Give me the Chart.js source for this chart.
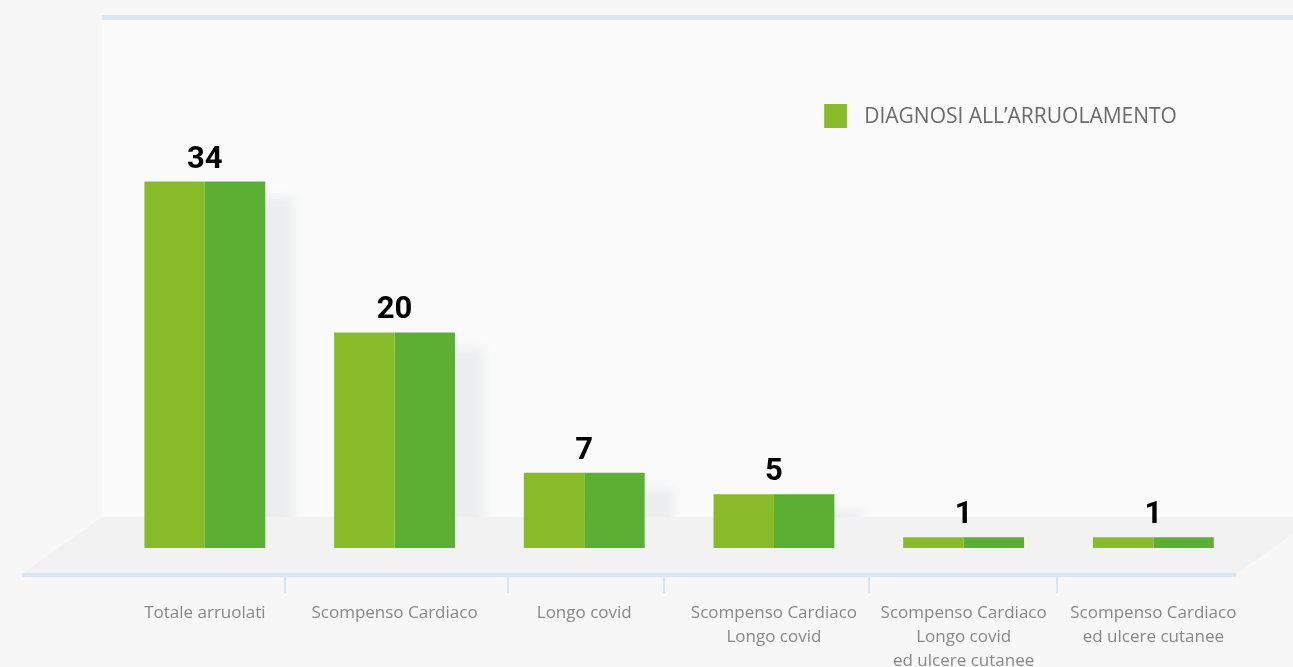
<!DOCTYPE html>
<html>
<head>
<meta charset="utf-8">
<script src="https://cdn.jsdelivr.net/npm/chart.js@4.4.1/dist/chart.umd.min.js"></script>
<style>
  html, body { margin: 0; padding: 0; background: #f7f7f7; }
  #wrap { width: 1293px; height: 667px; position: relative; }
</style>
</head>
<body>
<div id="wrap"><canvas id="c"></canvas></div>
<script>
// categories (multi-line labels as arrays)
var categories = [
  "Totale arruolati",
  "Scompenso Cardiaco",
  "Longo covid",
  ["Scompenso Cardiaco", "Longo covid"],
  ["Scompenso Cardiaco", "Longo covid", "ed ulcere cutanee"],
  ["Scompenso Cardiaco", "ed ulcere cutanee"]
];
var seriesName = "DIAGNOSI ALL\u2019ARRUOLAMENTO";
var values = [34, 20, 7, 5, 1, 1];
// separator ticks on the axis line, in category units
var separators = [0.42, 1.6, 2.42, 3.5, 4.49];

var LIGHT = "#87bb27", DARK = "#5bb033";
var WALL = "#fafafa", FLOOR = "#f2f2f2", AXIS_BLUE = "#d8e5f2";

// ── background: wall, floor, axis line, separators, bar shadows ──────────────
var scenePlugin = {
  id: "scene",
  beforeDraw: function (chart) {
    var ctx = chart.ctx, a = chart.chartArea, W = chart.width;
    var floorTop = a.bottom - 31, floorBot = a.bottom + 26;
    var wallLeft = a.left - 8;
    ctx.save();
    // back wall
    ctx.fillStyle = WALL;
    ctx.fillRect(wallLeft, 17, W - wallLeft, floorTop - 17);
    ctx.fillStyle = "#dbe6f3";
    ctx.fillRect(wallLeft, 15, W - wallLeft, 5);
    // floor
    var slope = (floorBot - floorTop) / 80;
    var rightBot = a.right - 12;
    ctx.fillStyle = FLOOR;
    ctx.beginPath();
    ctx.moveTo(wallLeft, floorTop);
    ctx.lineTo(W, floorTop);
    ctx.lineTo(W, floorBot - (W - rightBot) * slope);
    ctx.lineTo(rightBot, floorBot);
    ctx.lineTo(wallLeft - 80, floorBot);
    ctx.closePath();
    ctx.fill();
    // axis line
    ctx.fillStyle = AXIS_BLUE;
    ctx.fillRect(wallLeft - 80, floorBot - 1, rightBot - (wallLeft - 80), 4);
    // separators
    var xs = chart.scales.x;
    separators.forEach(function (v) {
      var x = Math.round(xs.getPixelForValue(v));
      ctx.fillRect(x - 1, floorBot, 2, 19);
    });
    // soft shadows cast on the wall behind each bar
    var m0 = chart.getDatasetMeta(0), m1 = chart.getDatasetMeta(1);
    ctx.beginPath();
    ctx.rect(wallLeft, 0, W - wallLeft, floorTop);
    ctx.clip();
    ctx.filter = "blur(5px)";
    ctx.fillStyle = "rgba(205,208,213,0.3)";
    m0.data.forEach(function (b, i) {
      var b1 = m1.data[i];
      var left = b.x - b.width / 2, right = b1.x + b1.width / 2;
      ctx.fillRect(left + 28, b.y + 16, right - left, floorTop - b.y);
    });
    ctx.restore();
  },
  afterDatasetsDraw: function (chart) {
    var ctx = chart.ctx, a = chart.chartArea;
    var m0 = chart.getDatasetMeta(0), m1 = chart.getDatasetMeta(1);
    ctx.save();
    // value labels
    ctx.fillStyle = "#000";
    ctx.font = "700 31px Roboto";
    ctx.textAlign = "center";
    ctx.textBaseline = "alphabetic";
    m0.data.forEach(function (b, i) {
      var cx = (b.x + m1.data[i].x) / 2;
      ctx.fillText(String(values[i]), cx, b.y - 14);
    });
    // legend
    ctx.font = "400 21px 'Open Sans'";
    ctx.textAlign = "left";
    ctx.textBaseline = "middle";
    var tx = a.right - 384;
    ctx.fillStyle = "#6b6b6b";
    ctx.fillText(seriesName, tx, 117);
    ctx.fillStyle = LIGHT;
    ctx.fillRect(tx - 40, 104, 23, 24);
    ctx.restore();
  }
};

new Chart(document.getElementById("c"), {
  type: "bar",
  data: {
    labels: categories,
    datasets: [
      { label: seriesName, data: values, backgroundColor: LIGHT, borderWidth: 0 },
      { label: seriesName, data: values, backgroundColor: DARK, borderWidth: 0 }
    ]
  },
  options: {
    responsive: true, maintainAspectRatio: false, animation: false,
    layout: { padding: { left: 110, right: 43, top: 63, bottom: -59 } },
    categoryPercentage: 0.637, barPercentage: 1.0,
    plugins: { legend: { display: false }, tooltip: { enabled: false } },
    scales: {
      x: {
        grid: { display: false, drawTicks: false }, border: { display: false },
        ticks: { color: "#888888", padding: 53, maxRotation: 0, autoSkip: false,
                 font: { family: "'Open Sans'", size: 17, lineHeight: 1.41 } }
      },
      y: { display: false, min: 0, max: 45 }
    }
  },
  plugins: [scenePlugin]
});
</script>
</body>
</html>
